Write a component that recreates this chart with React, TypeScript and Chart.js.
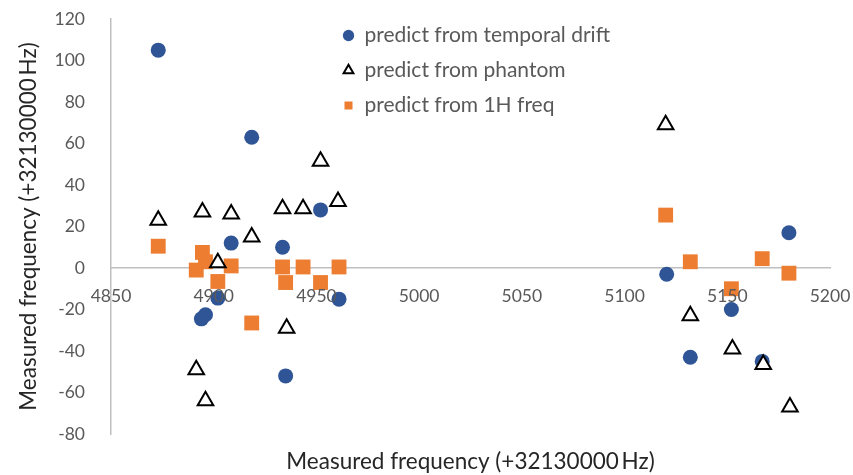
import React, { useEffect, useRef } from "react";
import { Chart, registerables } from "chart.js";

Chart.register(...registerables);

// ---- data ----
const driftX = [4873, 4918.5, 4908.5, 4933.5, 4952, 4961, 4902, 4894, 4896, 4935, 5120.5, 5180, 5152, 5132, 5167];
const driftY = [105, 63, 12, 10, 28, -15, -14.5, -24.5, -22.5, -52, -3, 17, -20, -43, -45];

const phantomX = [4873, 4894.5, 4908.5, 4918.5, 4902, 4933.5, 4943.5, 4952, 4960.5, 4935.5, 4891.5, 4896, 5120, 5132, 5152.5, 5167.5, 5180.5];
const phantomY = [23, 27, 26, 15, 2.5, 28.5, 28.5, 51.5, 32, -29, -49, -64, 69, -23, -39, -46.5, -67];

const freqX = [4873, 4891.5, 4894.5, 4896, 4902, 4908.5, 4918.5, 4933.5, 4935, 4943.5, 4952, 4961, 5120, 5132, 5152, 5167, 5180];
const freqY = [10.5, -1, 7.5, 3, -6.5, 1, -26.5, 0.5, -7, 0.5, -7, 0.5, 25.5, 3, -10, 4.5, -2.5];

const seriesLabels = ["predict from temporal drift", "predict from phantom", "predict from 1H freq"];
const xTickValues = [4850, 4900, 4950, 5000, 5050, 5100, 5150, 5200];
const yTickValues = [-80, -60, -40, -20, 0, 20, 40, 60, 80, 100, 120];
const axisTitle = "Measured frequency (+32130000\u2009Hz)";

const toPoints = (xs: number[], ys: number[]) => xs.map((x, i) => ({ x, y: ys[i] }));

const legendPlacer = {
  id: "legendPlacer",
  beforeDraw(chart: any) {
    const lg = chart.legend;
    if (!lg) return;
    const ca = chart.chartArea;
    lg.left = ca.left + 218;
    lg.right = lg.left + 420;
    lg.top = ca.top - 8;
    lg.bottom = lg.top + 200;
    lg.width = 420;
    lg.height = 200;
  },
};

export default function App() {
  const ref = useRef<HTMLCanvasElement | null>(null);

  useEffect(() => {
    if (!ref.current) return;
    Chart.defaults.font.family = "Lato";
    const chart = new Chart(ref.current, {
      type: "scatter",
      data: {
        datasets: [
          {
            label: seriesLabels[0],
            data: toPoints(driftX, driftY),
            pointStyle: "circle",
            pointRadius: 7.5,
            pointHoverRadius: 7.5,
            backgroundColor: "#2F5597",
            borderColor: "#2F5597",
            borderWidth: 0,
            order: 2,
          },
          {
            label: seriesLabels[1],
            data: toPoints(phantomX, phantomY),
            pointStyle: "triangle",
            pointRadius: 9,
            pointHoverRadius: 9,
            backgroundColor: "#FFFFFF",
            borderColor: "#000000",
            borderWidth: 2,
            order: 1,
          },
          {
            label: seriesLabels[2],
            data: toPoints(freqX, freqY),
            pointStyle: "rect",
            pointRadius: 10.5,
            pointHoverRadius: 10.5,
            backgroundColor: "#ED7D31",
            borderColor: "#ED7D31",
            borderWidth: 0,
            order: 3,
          },
        ],
      },
      options: {
        animation: false,
        responsive: true,
        maintainAspectRatio: false,
        events: [],
        layout: { padding: { top: 19, right: 23, left: 0, bottom: 0 } },
        plugins: {
          tooltip: { enabled: false },
          legend: {
            position: "chartArea" as any,
            align: "start",
            fullSize: false,
            labels: {
              usePointStyle: true,
              boxWidth: 11,
              boxHeight: 8,
              padding: 14,
              color: "#595959",
              font: { family: "Lato", size: 21 },
              sort: (a: any, b: any) => a.datasetIndex - b.datasetIndex,
            },
          },
        },
        scales: {
          x: {
            type: "linear",
            position: { y: 0 } as any,
            min: 4850,
            max: 5200,
            afterBuildTicks: (s: any) => {
              s.ticks = xTickValues.map((v) => ({ value: v }));
            },
            afterFit: (s: any) => {
              s.paddingLeft = 0;
              s.paddingRight = 0;
            },
            grid: { display: false, drawTicks: false },
            border: { display: true, color: "#BFBFBF", width: 1.5 },
            ticks: {
              z: 1,
              color: "#595959",
              font: { family: "Lato", size: 17.5 },
              padding: 18,
              maxRotation: 0,
              autoSkip: false,
              callback: (v: any) => String(v),
            },
          },
          xTitle: {
            type: "linear",
            position: "bottom",
            min: 4850,
            max: 5200,
            ticks: { display: false },
            grid: { display: false, drawTicks: false },
            border: { display: false },
            title: {
              display: true,
              text: axisTitle,
              color: "#262626",
              font: { family: "Lato", size: 22.5 },
              padding: { top: 0, bottom: 0 },
            },
            afterFit: (s: any) => {
              s.height = 41;
              s.paddingLeft = 0;
              s.paddingRight = 0;
            },
          },
          y: {
            type: "linear",
            position: "left",
            min: -80,
            max: 120,
            afterBuildTicks: (s: any) => {
              s.ticks = yTickValues.map((v) => ({ value: v }));
            },
            grid: { display: false, drawTicks: false },
            border: { display: true, color: "#BFBFBF", width: 1.5 },
            ticks: {
              color: "#595959",
              font: { family: "Lato", size: 17.5 },
              padding: 26,
              autoSkip: false,
              callback: (v: any) => String(v),
            },
            title: {
              display: true,
              text: axisTitle,
              color: "#262626",
              font: { family: "Lato", size: 22.5 },
              padding: { top: 15, bottom: 0 },
            },
            afterFit: (s: any) => {
              s.width = 111;
              s.paddingTop = 0;
              s.paddingBottom = 0;
            },
          },
        },
      },
      plugins: [legendPlacer],
    });
    return () => chart.destroy();
  }, []);

  return (
    <div style={{ position: "fixed", left: 0, top: 0, width: "100vw", height: "100vh" }}>
      <canvas ref={ref} />
    </div>
  );
}
